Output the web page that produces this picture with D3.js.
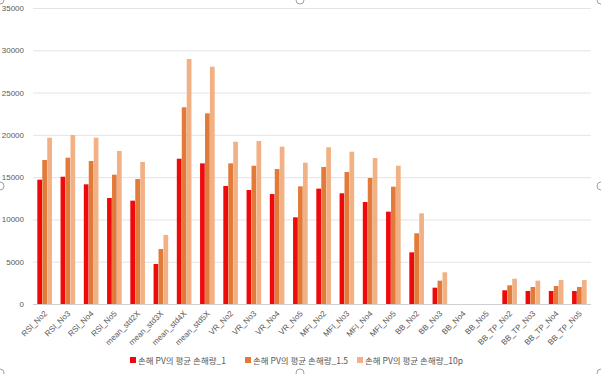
<!DOCTYPE html>
<html><head><meta charset="utf-8">
<script src="https://cdn.jsdelivr.net/npm/d3@7"></script>
<style>body{margin:0;background:#fff}svg{display:block}</style>
</head><body><svg id="c" width="601" height="374"></svg>
<script>
const categories = ["RSI_No2","RSI_No3","RSI_No4","RSI_No5","mean_std2X","mean_std3X","mean_std4X","mean_std5X","VR_No2","VR_No3","VR_No4","VR_No5","MFI_No2","MFI_No3","MFI_No4","MFI_No5","BB_No2","BB_No3","BB_No4","BB_No5","BB_TP_No2","BB_TP_No3","BB_TP_No4","BB_TP_No5"];
const seriesNames = ["손해 PV의 평균 손해량_1","손해 PV의 평균 손해량_1.5","손해 PV의 평균 손해량_10p"];
const s1 = [14700,15050,14150,12530,12220,4730,17180,16630,13950,13480,13000,10250,13640,13090,12060,10920,6110,1930,0,0,1620,1540,1540,1540];
const s15 = [17030,17300,16910,15290,14780,6500,23260,22540,16630,16350,15960,13910,16200,15610,14900,13870,8360,2760,0,0,2210,2010,2130,2010];
const s10p = [19660,19980,19660,18090,16790,8160,28970,28060,19190,19270,18600,16710,18530,18010,17260,16350,10720,3750,0,0,2990,2760,2840,2840];
const yTicks = [0,5000,10000,15000,20000,25000,30000,35000];
const colors = ["#ee0a0a","#e27b3a","#f2b184"];

(function(){
const svg = d3.select("#c");
const pl = 33, pr = 591, pt = 8, pb = 304;
const x = d3.scaleBand().domain(categories).range([pl,pr]).paddingInner(0.35).paddingOuter(0.175);
const y = d3.scaleLinear().domain([0,35000]).range([pb,pt]);
const xs = d3.scaleBand().domain([0,1,2]).range([0,x.bandwidth()]).padding(0.05);

svg.append("g").selectAll("line").data(yTicks).join("line")
  .attr("x1",pl).attr("x2",pr).attr("y1",d=>y(d)+0.5).attr("y2",d=>y(d)+0.5)
  .attr("stroke",d=>d===0?"#d0d0d0":"#e4e4e4").attr("stroke-width",1);

const yAxis = d3.axisLeft(y).tickValues(yTicks).tickSize(0).tickPadding(9).tickFormat(d3.format("d"));
const ya = svg.append("g").attr("transform",`translate(${pl},0)`).call(yAxis);
ya.select(".domain").remove();
ya.selectAll("text").attr("fill","#595959").style("font-family","'Liberation Sans',Arial,sans-serif").style("font-size","8px");

const series = [s1,s15,s10p];
series.forEach((vals,si)=>{
  svg.append("g").selectAll("rect").data(vals).join("rect")
    .attr("x",(d,i)=>x(categories[i])+xs(si))
    .attr("width",xs.bandwidth())
    .attr("y",d=>y(d))
    .attr("height",d=>pb-y(d))
    .attr("fill",colors[si]);
});

const xAxis = d3.axisBottom(x).tickSize(0).tickPadding(0);
const xa = svg.append("g").attr("transform",`translate(0,${pb})`).call(xAxis);
xa.select(".domain").remove();
xa.selectAll("text")
  .attr("fill","#595959").style("font-family","'Liberation Sans',Arial,sans-serif").style("font-size","8px")
  .attr("text-anchor","end").attr("dy","0").attr("y",0)
  .attr("transform","translate(3,10) rotate(-45)");

const legX = [130,245,357];
const leg = svg.append("g");
seriesNames.forEach((n,i)=>{
  leg.append("rect").attr("x",legX[i]).attr("y",357).attr("width",6).attr("height",6).attr("fill",colors[i]);
  leg.append("text").attr("x",legX[i]+8).attr("y",364).text(n)
    .attr("fill","#595959").style("font-family","'Noto Sans CJK KR',sans-serif").style("font-size","8.5px");
});

const handles = [[0,0],[300,0],[601,0],[0,186],[601,186],[0,373],[300,373],[601,373]];
svg.append("g").selectAll("circle").data(handles).join("circle")
  .attr("cx",d=>d[0]).attr("cy",d=>d[1]).attr("r",4)
  .attr("fill","#fff").attr("stroke","#a0a0a0").attr("stroke-width",1);
})();
</script></body></html>
